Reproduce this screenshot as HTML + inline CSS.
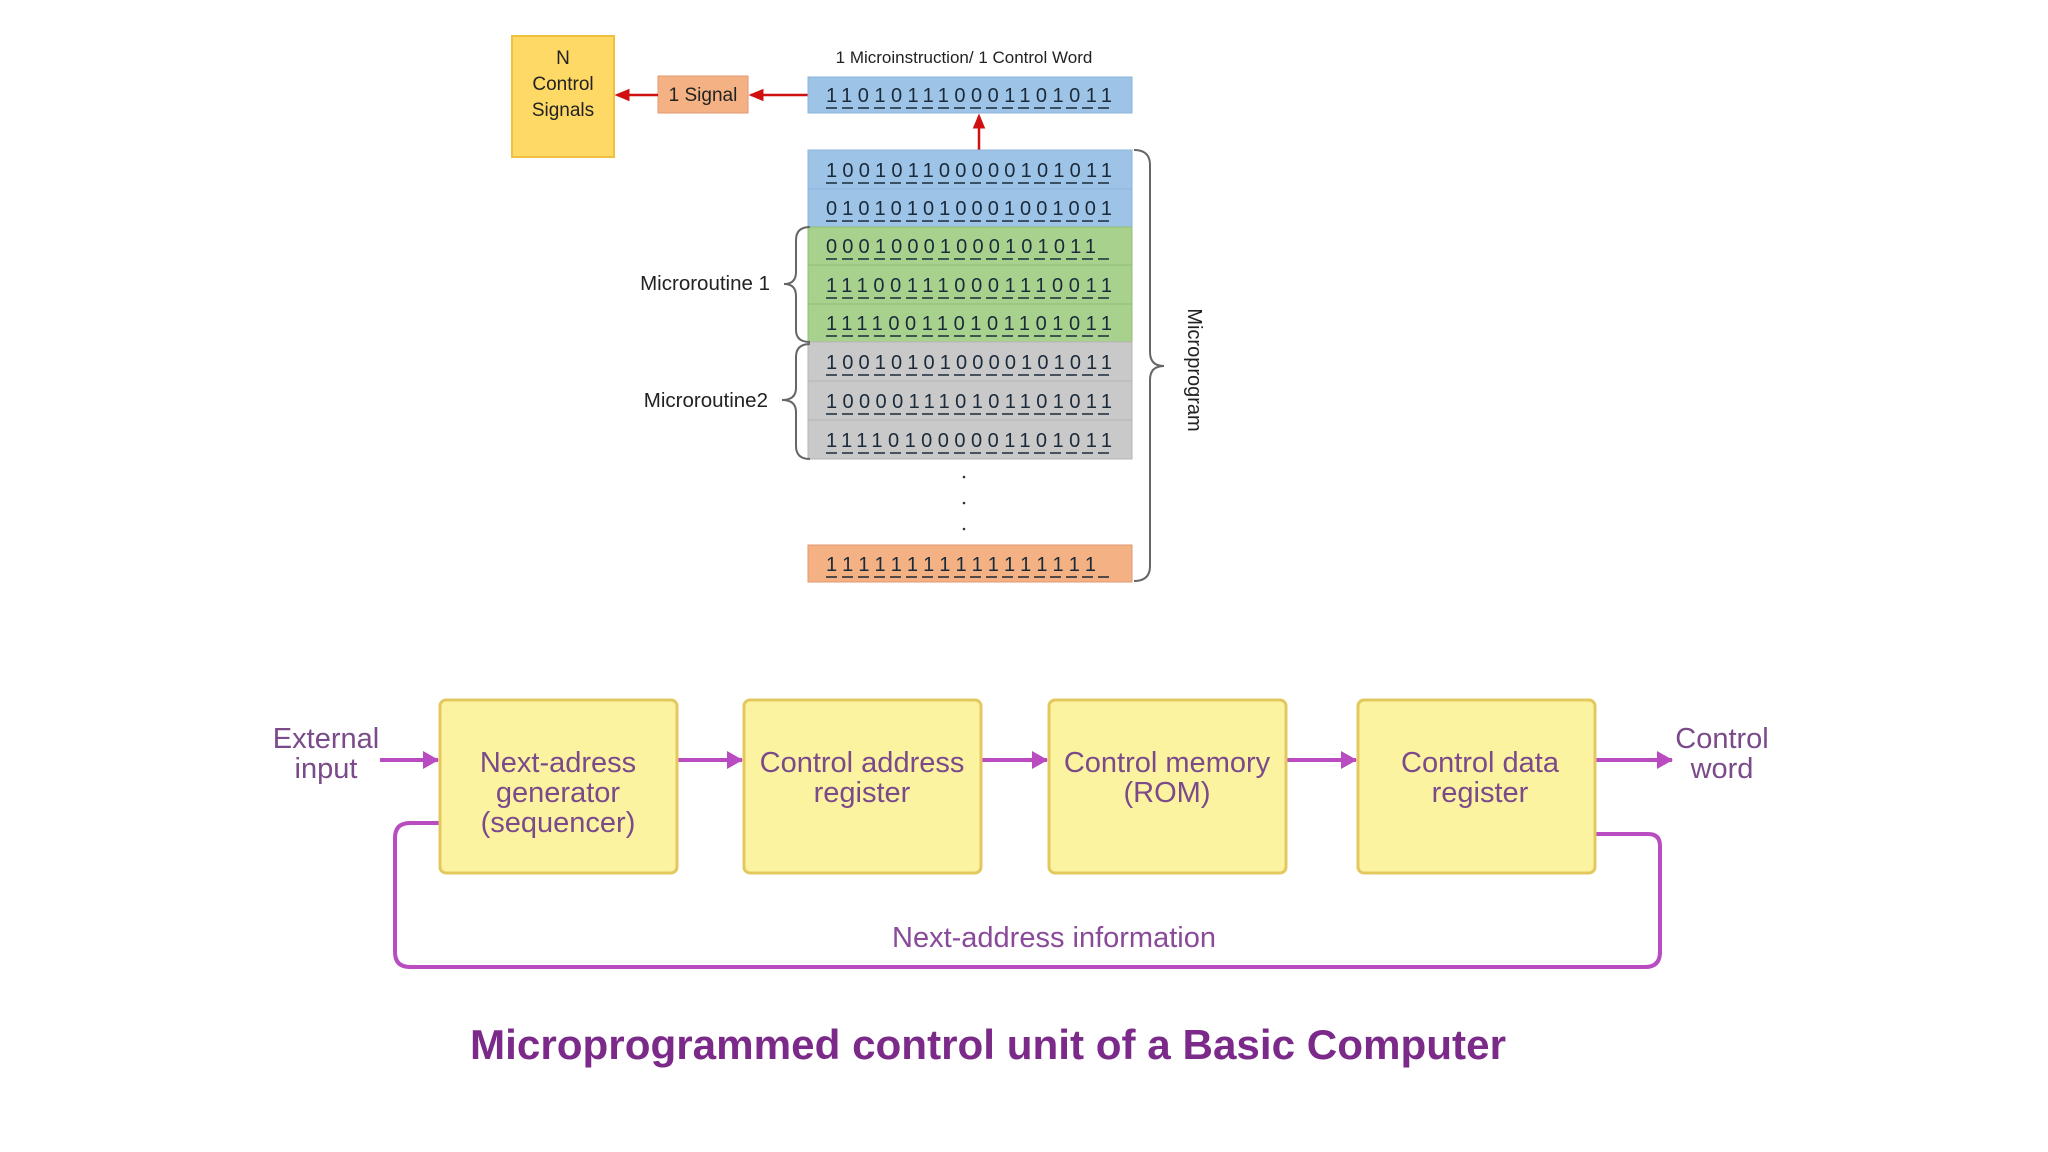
<!DOCTYPE html>
<html><head><meta charset="utf-8"><style>
html,body{margin:0;padding:0;background:#fff;}
svg{display:block;}
.bits{font-family:"Liberation Sans",sans-serif;font-size:20px;fill:#1a2a3a;}
.lbl{font-family:"Liberation Sans",sans-serif;}
.bt{font-family:"Liberation Sans",sans-serif;font-size:29px;fill:#7a4a8a;text-anchor:middle;}
</style></head><body>
<svg width="2048" height="1152" viewBox="0 0 2048 1152" xmlns="http://www.w3.org/2000/svg">
<defs>
<marker id="ra" markerWidth="6" markerHeight="6" refX="5" refY="3" orient="auto"><path d="M0,0.5 L6,3 L0,5.5z" fill="#d01010"/></marker>
<marker id="pa" markerWidth="16" markerHeight="18" refX="15" refY="9" orient="auto" markerUnits="userSpaceOnUse"><path d="M0,0 L16,9 L0,18z" fill="#b84cc0"/></marker>
</defs>
<!-- N Control Signals -->
<rect x="512" y="36" width="102" height="121" fill="#ffd966" stroke="#f0c040" stroke-width="2"/>
<text class="lbl" x="563" y="64" font-size="19" text-anchor="middle" fill="#222">N</text>
<text class="lbl" x="563" y="90" font-size="19" text-anchor="middle" fill="#222">Control</text>
<text class="lbl" x="563" y="116" font-size="19" text-anchor="middle" fill="#222">Signals</text>
<rect x="658" y="76" width="90" height="37" fill="#f4b183" stroke="#e09a70"/>
<text class="lbl" x="703" y="101" font-size="19" text-anchor="middle" fill="#222">1 Signal</text>
<line x1="658" y1="95" x2="617" y2="95" stroke="#d01010" stroke-width="2.5" marker-end="url(#ra)"/>
<line x1="808" y1="95" x2="751" y2="95" stroke="#d01010" stroke-width="2.5" marker-end="url(#ra)"/>
<text class="lbl" x="964" y="63" font-size="17" text-anchor="middle" fill="#222">1 Microinstruction/ 1 Control Word</text>
<line x1="979" y1="150" x2="979" y2="116" stroke="#d01010" stroke-width="2.5" marker-end="url(#ra)"/>

<g id="rows">
<rect x="808" y="77" width="324" height="36" fill="#9dc3e6" stroke="#8fb3da"/>
<text class="bits" x="826" y="102" textLength="286" lengthAdjust="spacing">110101110001101011</text>
<line x1="826" y1="108" x2="1112" y2="108" stroke="#1a2a3a" stroke-width="1.5" stroke-dasharray="11 5"/>

<rect x="808" y="150" width="324" height="39" fill="#9dc3e6" stroke="#8fb3da"/>
<text class="bits" x="826" y="177" textLength="286" lengthAdjust="spacing">100101100000101011</text>
<line x1="826" y1="183" x2="1112" y2="183" stroke="#1a2a3a" stroke-width="1.5" stroke-dasharray="11 5"/>
<rect x="808" y="189" width="324" height="38" fill="#9dc3e6" stroke="#8fb3da"/>
<text class="bits" x="826" y="215" textLength="286" lengthAdjust="spacing">010101010001001001</text>
<line x1="826" y1="221" x2="1112" y2="221" stroke="#1a2a3a" stroke-width="1.5" stroke-dasharray="11 5"/>

<rect x="808" y="227" width="324" height="38" fill="#a9d18e" stroke="#90bd78"/>
<text class="bits" x="826" y="253" textLength="270" lengthAdjust="spacing">00010001000101011</text>
<line x1="826" y1="259" x2="1112" y2="259" stroke="#1a2a3a" stroke-width="1.5" stroke-dasharray="11 5"/>
<rect x="808" y="265" width="324" height="39" fill="#a9d18e" stroke="#90bd78"/>
<text class="bits" x="826" y="292" textLength="286" lengthAdjust="spacing">111001110001110011</text>
<line x1="826" y1="298" x2="1112" y2="298" stroke="#1a2a3a" stroke-width="1.5" stroke-dasharray="11 5"/>
<rect x="808" y="304" width="324" height="38" fill="#a9d18e" stroke="#90bd78"/>
<text class="bits" x="826" y="330" textLength="286" lengthAdjust="spacing">111100110101101011</text>
<line x1="826" y1="336" x2="1112" y2="336" stroke="#1a2a3a" stroke-width="1.5" stroke-dasharray="11 5"/>

<rect x="808" y="342" width="324" height="39" fill="#c9c9c9" stroke="#b5b5b5"/>
<text class="bits" x="826" y="369" textLength="286" lengthAdjust="spacing">100101010000101011</text>
<line x1="826" y1="375" x2="1112" y2="375" stroke="#1a2a3a" stroke-width="1.5" stroke-dasharray="11 5"/>
<rect x="808" y="381" width="324" height="39" fill="#c9c9c9" stroke="#b5b5b5"/>
<text class="bits" x="826" y="408" textLength="286" lengthAdjust="spacing">100001110101101011</text>
<line x1="826" y1="414" x2="1112" y2="414" stroke="#1a2a3a" stroke-width="1.5" stroke-dasharray="11 5"/>
<rect x="808" y="420" width="324" height="39" fill="#c9c9c9" stroke="#b5b5b5"/>
<text class="bits" x="826" y="447" textLength="286" lengthAdjust="spacing">111101000001101011</text>
<line x1="826" y1="453" x2="1112" y2="453" stroke="#1a2a3a" stroke-width="1.5" stroke-dasharray="11 5"/>

<circle cx="964" cy="477" r="1.3" fill="#333"/>
<circle cx="964" cy="503" r="1.3" fill="#333"/>
<circle cx="964" cy="529" r="1.3" fill="#333"/>

<rect x="808" y="545" width="324" height="37" fill="#f4b183" stroke="#e09a70"/>
<text class="bits" x="826" y="571" textLength="270" lengthAdjust="spacing">11111111111111111</text>
<line x1="826" y1="577" x2="1112" y2="577" stroke="#1a2a3a" stroke-width="1.5" stroke-dasharray="11 5"/>
</g>

<!-- braces -->
<path d="M1134,150 Q1150,150 1150,165 L1150,352 Q1150,366 1164,366 Q1150,366 1150,380 L1150,566 Q1150,581 1134,581" fill="none" stroke="#666" stroke-width="2"/>
<text class="lbl" font-size="20" fill="#222" transform="translate(1188,370) rotate(90)" text-anchor="middle">Microprogram</text>
<path d="M810,227 Q796,227 796,240 L796,272 Q796,284 784,284 Q796,284 796,296 L796,330 Q796,342 810,342" fill="none" stroke="#666" stroke-width="2"/>
<text class="lbl" x="770" y="290" font-size="20.5" fill="#222" text-anchor="end">Microroutine 1</text>
<path d="M810,344 Q796,344 796,357 L796,388 Q796,400 782,400 Q796,400 796,412 L796,446 Q796,459 810,459" fill="none" stroke="#666" stroke-width="2"/>
<text class="lbl" x="768" y="407" font-size="20.5" fill="#222" text-anchor="end">Microroutine2</text>

<!-- bottom diagram -->
<g stroke="#b84cc0" stroke-width="4" fill="none">
<line x1="380" y1="760" x2="438" y2="760" marker-end="url(#pa)"/>
<line x1="677" y1="760" x2="742" y2="760" marker-end="url(#pa)"/>
<line x1="981" y1="760" x2="1047" y2="760" marker-end="url(#pa)"/>
<line x1="1286" y1="760" x2="1356" y2="760" marker-end="url(#pa)"/>
<line x1="1595" y1="760" x2="1672" y2="760" marker-end="url(#pa)"/>
<path d="M440,823 L410,823 Q395,823 395,838 L395,952 Q395,967 410,967 L1645,967 Q1660,967 1660,952 L1660,846 Q1660,834 1648,834 L1595,834"/>
</g>
<g fill="#fcf3a0" stroke="#e3c860" stroke-width="3">
<rect x="440" y="700" width="237" height="173" rx="6"/>
<rect x="744" y="700" width="237" height="173" rx="6"/>
<rect x="1049" y="700" width="237" height="173" rx="6"/>
<rect x="1358" y="700" width="237" height="173" rx="6"/>
</g>
<text class="bt" x="558" y="772">Next-adress</text>
<text class="bt" x="558" y="802">generator</text>
<text class="bt" x="558" y="832">(sequencer)</text>
<text class="bt" x="862" y="772">Control address</text>
<text class="bt" x="862" y="802">register</text>
<text class="bt" x="1167" y="772">Control memory</text>
<text class="bt" x="1167" y="802">(ROM)</text>
<text class="bt" x="1480" y="772">Control data</text>
<text class="bt" x="1480" y="802">register</text>
<text class="bt" x="326" y="748" fill="#9b4aa8">External</text>
<text class="bt" x="326" y="778" fill="#9b4aa8">input</text>
<text class="bt" x="1722" y="748" fill="#9b4aa8">Control</text>
<text class="bt" x="1722" y="778" fill="#9b4aa8">word</text>
<text class="bt" x="1054" y="947" style="fill:#8a4a9a">Next-address information</text>
<text class="lbl" x="988" y="1059" font-size="42" font-weight="bold" fill="#7b2a8a" text-anchor="middle" textLength="1036" lengthAdjust="spacingAndGlyphs">Microprogrammed control unit of a Basic Computer</text>
</svg>
</body></html>
